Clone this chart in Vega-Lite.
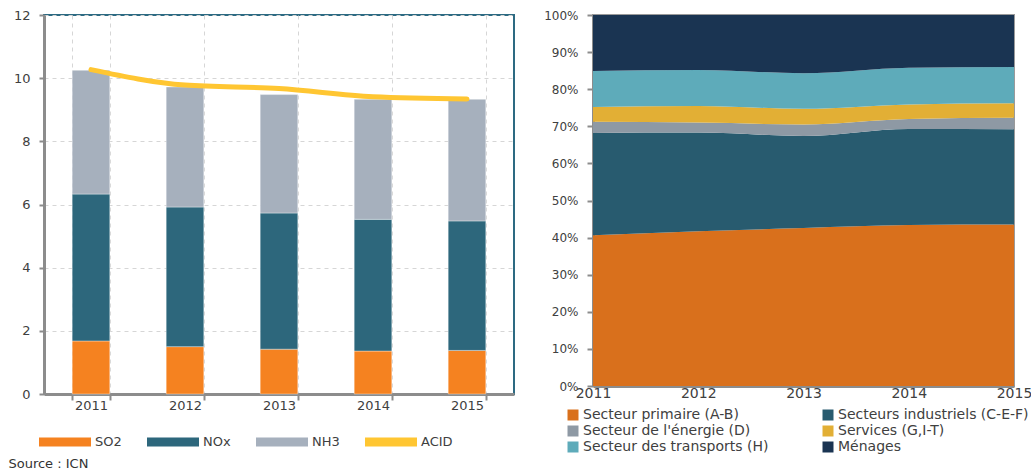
{
  "$schema": "https://vega.github.io/schema/vega-lite/v6.json",
  "background": "white",
  "padding": {"left": 8, "top": 8, "right": 0, "bottom": 0},
  "bounds": "flush",
  "spacing": 79,
  "config": {
    "font": "DejaVu Sans",
    "axis": {"labelFont": "DejaVu Sans", "labelColor": "#404040", "labelFontSize": 13, "domainColor": "#8c8c8c", "tickColor": "#8c8c8c"},
    "legend": {"labelFont": "DejaVu Sans", "labelColor": "#404040", "labelFontSize": 13, "labelLimit": 400}
  },
  "title": {"text": "Source : ICN", "orient": "bottom", "anchor": "start", "frame": "bounds", "fontSize": 13, "fontWeight": "normal", "color": "#333333", "font": "DejaVu Sans", "offset": 0, "dx": -4, "dy": 3},
  "resolve": {"scale": {"color": "independent"}},
  "hconcat": [
    {
      "width": 470,
      "height": 379,
      "view": {"stroke": "#2D6A82", "strokeWidth": 2},
      "layer": [
        {
          "data": {"values": [
            {"year": "2011", "pollutant": "SO2", "value": 1.68},
            {"year": "2011", "pollutant": "NOx", "value": 4.65},
            {"year": "2011", "pollutant": "NH3", "value": 3.92},
            {"year": "2012", "pollutant": "SO2", "value": 1.50},
            {"year": "2012", "pollutant": "NOx", "value": 4.42},
            {"year": "2012", "pollutant": "NH3", "value": 3.80},
            {"year": "2013", "pollutant": "SO2", "value": 1.42},
            {"year": "2013", "pollutant": "NOx", "value": 4.31},
            {"year": "2013", "pollutant": "NH3", "value": 3.75},
            {"year": "2014", "pollutant": "SO2", "value": 1.36},
            {"year": "2014", "pollutant": "NOx", "value": 4.17},
            {"year": "2014", "pollutant": "NH3", "value": 3.80},
            {"year": "2015", "pollutant": "SO2", "value": 1.38},
            {"year": "2015", "pollutant": "NOx", "value": 4.10},
            {"year": "2015", "pollutant": "NH3", "value": 3.85}
          ]},
          "mark": {"type": "bar", "stroke": "#ffffff", "strokeWidth": 0.6, "strokeOpacity": 0.6},
          "encoding": {
            "x": {"field": "year", "type": "ordinal", "scale": {"paddingInner": 0.6, "paddingOuter": 0.3},
              "axis": {"title": null, "labelAngle": 0, "tickBand": "extent", "grid": true, "gridDash": [4, 4], "gridColor": "#d6d6d6", "domainWidth": 3, "tickSize": 6, "tickWidth": 2, "labelPadding": -1}},
            "y": {"field": "value", "type": "quantitative", "stack": "zero", "scale": {"domain": [0, 12], "nice": false},
              "axis": {"title": null, "values": [0, 2, 4, 6, 8, 10, 12], "grid": true, "gridDash": [4, 4], "gridColor": "#d6d6d6", "domainWidth": 3, "tickSize": 5, "tickWidth": 2, "labelPadding": 9, "labelFontSize": 13}},
            "color": {"field": "pollutant", "type": "nominal",
              "scale": {"domain": ["SO2", "NOx", "NH3", "ACID"], "range": ["#F58220", "#2D677C", "#A6B0BD", "#FFC632"]},
              "legend": {"title": null, "orient": "none", "legendX": -5, "legendY": 401, "direction": "horizontal", "symbolType": "M-1,-0.17H1V0.17H-1Z", "symbolSize": 2704, "symbolStrokeWidth": 0, "symbolOpacity": 1, "labelOffset": 4, "columnPadding": 25}},
            "order": {"field": "pollutant", "sort": "descending"}
          }
        },
        {
          "data": {"values": [
            {"year": "2011", "value": 10.27},
            {"year": "2012", "value": 9.78},
            {"year": "2013", "value": 9.67},
            {"year": "2014", "value": 9.41},
            {"year": "2015", "value": 9.34}
          ]},
          "mark": {"type": "line", "color": "#FFC632", "strokeWidth": 5, "strokeCap": "round", "interpolate": "monotone"},
          "encoding": {
            "x": {"field": "year", "type": "ordinal"},
            "y": {"field": "value", "type": "quantitative"}
          }
        }
      ]
    },
    {
      "width": 421,
      "height": 371,
      "view": {"stroke": "#9a9a9a", "strokeWidth": 2},
      "data": {"values": [
        {"year": 2011, "sector": "Secteur primaire (A-B)", "rank": 1, "share": 40.6},
        {"year": 2011, "sector": "Secteurs industriels (C-E-F)", "rank": 2, "share": 27.6},
        {"year": 2011, "sector": "Secteur de l'énergie (D)", "rank": 3, "share": 3.0},
        {"year": 2011, "sector": "Services (G,I-T)", "rank": 4, "share": 4.0},
        {"year": 2011, "sector": "Secteur des transports (H)", "rank": 5, "share": 9.7},
        {"year": 2011, "sector": "Ménages", "rank": 6, "share": 15.1},
        {"year": 2012, "sector": "Secteur primaire (A-B)", "rank": 1, "share": 41.7},
        {"year": 2012, "sector": "Secteurs industriels (C-E-F)", "rank": 2, "share": 26.6},
        {"year": 2012, "sector": "Secteur de l'énergie (D)", "rank": 3, "share": 2.7},
        {"year": 2012, "sector": "Services (G,I-T)", "rank": 4, "share": 4.5},
        {"year": 2012, "sector": "Secteur des transports (H)", "rank": 5, "share": 9.7},
        {"year": 2012, "sector": "Ménages", "rank": 6, "share": 14.8},
        {"year": 2013, "sector": "Secteur primaire (A-B)", "rank": 1, "share": 42.6},
        {"year": 2013, "sector": "Secteurs industriels (C-E-F)", "rank": 2, "share": 24.8},
        {"year": 2013, "sector": "Secteur de l'énergie (D)", "rank": 3, "share": 3.1},
        {"year": 2013, "sector": "Services (G,I-T)", "rank": 4, "share": 4.2},
        {"year": 2013, "sector": "Secteur des transports (H)", "rank": 5, "share": 9.6},
        {"year": 2013, "sector": "Ménages", "rank": 6, "share": 15.7},
        {"year": 2014, "sector": "Secteur primaire (A-B)", "rank": 1, "share": 43.4},
        {"year": 2014, "sector": "Secteurs industriels (C-E-F)", "rank": 2, "share": 25.9},
        {"year": 2014, "sector": "Secteur de l'énergie (D)", "rank": 3, "share": 2.7},
        {"year": 2014, "sector": "Services (G,I-T)", "rank": 4, "share": 3.9},
        {"year": 2014, "sector": "Secteur des transports (H)", "rank": 5, "share": 9.9},
        {"year": 2014, "sector": "Ménages", "rank": 6, "share": 14.2},
        {"year": 2015, "sector": "Secteur primaire (A-B)", "rank": 1, "share": 43.5},
        {"year": 2015, "sector": "Secteurs industriels (C-E-F)", "rank": 2, "share": 25.7},
        {"year": 2015, "sector": "Secteur de l'énergie (D)", "rank": 3, "share": 3.1},
        {"year": 2015, "sector": "Services (G,I-T)", "rank": 4, "share": 3.9},
        {"year": 2015, "sector": "Secteur des transports (H)", "rank": 5, "share": 9.8},
        {"year": 2015, "sector": "Ménages", "rank": 6, "share": 14.0}
      ]},
      "mark": {"type": "area", "interpolate": "monotone"},
      "encoding": {
        "x": {"field": "year", "type": "quantitative", "scale": {"domain": [2011, 2015], "nice": false, "zero": false},
          "axis": {"title": null, "values": [2011, 2012, 2013, 2014, 2015], "format": "d", "grid": false, "ticks": false, "domainWidth": 3, "labelPadding": 0, "labelFontSize": 14, "labelFlush": false}},
        "y": {"field": "share", "type": "quantitative", "stack": "normalize",
          "axis": {"title": null, "format": ".0%", "values": [0, 0.1, 0.2, 0.3, 0.4, 0.5, 0.6, 0.7, 0.8, 0.9, 1], "grid": false, "tickSize": 6, "tickWidth": 2, "domainWidth": 3, "labelPadding": 9, "labelFontSize": 12}},
        "color": {"field": "sector", "type": "nominal",
          "scale": {"domain": ["Secteur primaire (A-B)", "Secteur de l'énergie (D)", "Secteur des transports (H)", "Secteurs industriels (C-E-F)", "Services (G,I-T)", "Ménages"],
            "range": ["#D9701C", "#8E99A4", "#5EABBA", "#285B6F", "#E2AF35", "#1A3452"]},
          "legend": {"title": null, "orient": "none", "legendX": -27, "legendY": 393, "columns": 2, "symbolType": "square", "symbolSize": 121, "symbolStrokeWidth": 0, "symbolOpacity": 1, "columnPadding": 52, "rowPadding": 2, "labelOffset": 3, "labelFontSize": 14}},
        "order": {"field": "rank", "type": "quantitative", "sort": "ascending"}
      }
    }
  ]
}
